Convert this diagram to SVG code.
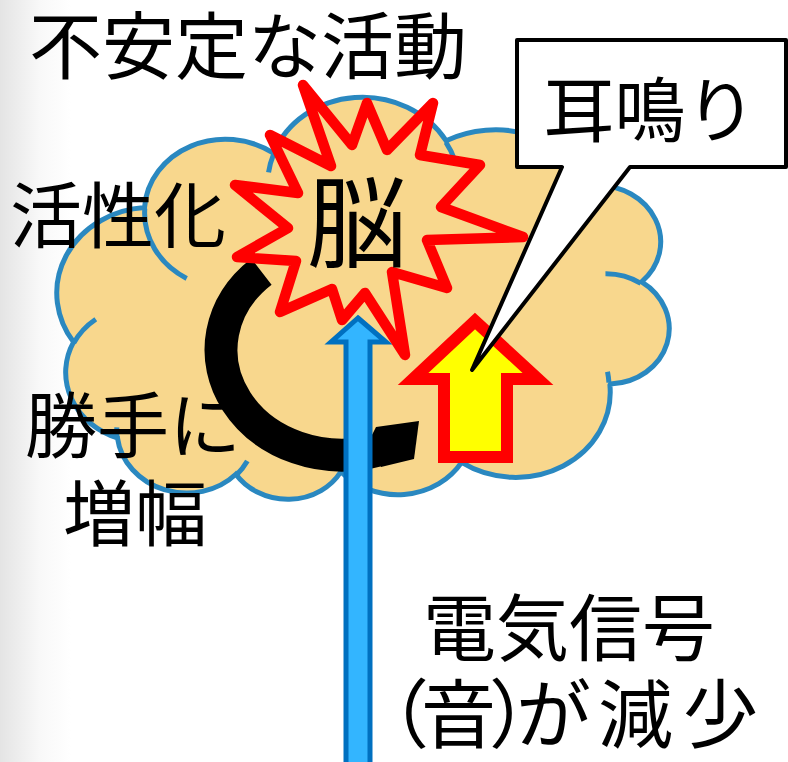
<svg xmlns="http://www.w3.org/2000/svg" width="788" height="762" viewBox="0 0 788 762">
  <defs>
    <linearGradient id="edgeShade" x1="0" y1="0" x2="1" y2="0">
      <stop offset="0" stop-color="#e4e4e4"/>
      <stop offset="0.05" stop-color="#f8f8f8"/>
      <stop offset="0.09" stop-color="#ffffff"/>
    </linearGradient>
    <style>
      .label { font-family: "Noto Sans CJK JP", "Noto Sans CJK SC", sans-serif; fill: #000; }
      .cloud-body { fill: #F8D78D; stroke: #2A88C0; stroke-width: 5; }
      .cloud-seam { fill: none; stroke: #2A88C0; stroke-width: 5; }
      .burst { fill: #F8D78D; stroke: #FF0000; stroke-width: 10.5; stroke-linejoin: round; }
      .loop { fill: none; stroke: #000; stroke-width: 33; stroke-linecap: butt; }
      .signal { fill: #33B5FF; stroke: #0070C0; stroke-width: 5; stroke-linejoin: miter; }
      .rise { fill: #FFFF00; stroke: #FF0000; stroke-width: 12; stroke-linejoin: miter; }
      .callout { fill: #FFFFFF; stroke: #000; stroke-width: 4; stroke-linejoin: round; }
    </style>
  </defs>

  <!-- slide background with a soft shade on the left edge -->
  <rect x="0" y="0" width="788" height="762" fill="url(#edgeShade)"/>

  <!-- brain cloud: preset cloud outline in 43200-unit space, turned upside down and tilted -->
  <g id="brain-cloud" transform="rotate(3.5 363 300) matrix(-0.01419 0 0 -0.0094 670 505)">
    <path class="cloud-body" vector-effect="non-scaling-stroke"
      d="M3900 14370
         A6753 9190 0 0 1 14002 5198
         A5333 7267 0 0 1 22453 3428
         A4365 5945 0 0 1 29830 2481
         A4857 6595 0 0 1 38314 5576
         A5333 7273 0 0 1 41815 15460
         A6775 9220 0 0 1 37401 30202
         A5785 7867 0 0 1 28551 36810
         A6752 9215 0 0 1 16477 39264
         A7720 10543 0 0 1 5808 35467
         A4360 5918 0 0 1 2114 25548
         A4345 5945 0 0 1 3864 14505 Z"/>
    <path class="cloud-seam" vector-effect="non-scaling-stroke"
      d="M4693 26177 A4345 5945 0 0 1 2159 25379
         M6928 34899 A4360 5918 0 0 1 5821 35280
         M16478 39090 A6752 9215 0 0 1 15809 37348
         M28827 34751 A6752 9215 0 0 1 28560 36660
         M34129 22954 A5785 7867 0 0 1 37377 30088
         M41798 15354 A5333 7273 0 0 1 40349 18031
         M38324 5426 A4857 6595 0 0 1 38401 6690
         M29078 3952 A4857 6595 0 0 1 29821 2339
         M22141 4720 A4365 5945 0 0 1 22501 3329
         M14000 5192 A6753 9190 0 0 1 15304 6544
         M4127 15789 A6753 9190 0 0 1 3981 14629"/>
  </g>

  <!-- connectors: feedback loop and incoming signal -->
  <g id="connectors">
    <g id="feedback-loop">
      <path class="loop" d="M261.5 271.6 A121 105 0 0 0 377.4 450.4"/>
      <polygon points="372,435 376,427 419,421 414,459 381,467" fill="#000"/>
    </g>
    <g id="signal-arrow">
      <polygon class="signal" points="358,318 386,342 370,342 370,775 346,775 346,342 331,342"/>
    </g>
  </g>

  <!-- unstable activity burst around the brain -->
  <g id="brain-burst">
    <polygon class="burst" points="303,85 352,145 367,103 387,150 433,103 420,155 480,165 441,207 523,237 427,240 447,288 392,272 405,355 365,293 342,320 332,289 280,312 296,261 237,257 288,228 235,185 298,193 270,135 331,166"/>
    <text class="label" x="357" y="260" font-size="100" text-anchor="middle">脳</text>
  </g>

  <!-- tinnitus rise arrow -->
  <g id="tinnitus-arrow">
    <polygon class="rise" points="475,321 538,379 507,379 507,457 444,457 444,379 413,379"/>
  </g>

  <!-- tinnitus callout -->
  <g id="tinnitus-callout">
    <path class="callout" d="M517 40 H786 V167 H630 L472 370 L562 167 H517 Z"/>
    <text class="label" x="650" y="136" font-size="71" text-anchor="middle">耳鳴り</text>
  </g>

  <!-- free labels -->
  <g id="label-unstable">
    <text class="label" x="29" y="73" font-size="73">不安定な活動</text>
  </g>
  <g id="label-activation">
    <text class="label" x="10" y="242" font-size="72">活性化</text>
  </g>
  <g id="label-amplify">
    <text class="label" x="25" y="452" font-size="72">勝手に</text>
    <text class="label" x="63" y="540" font-size="72">増幅</text>
  </g>
  <g id="label-signal">
    <text class="label" x="423" y="655" font-size="73">電気信号</text>
    <text class="label" x="354 421 489 516 598 683" y="742" font-size="75">（音）が減少</text>
  </g>
</svg>
